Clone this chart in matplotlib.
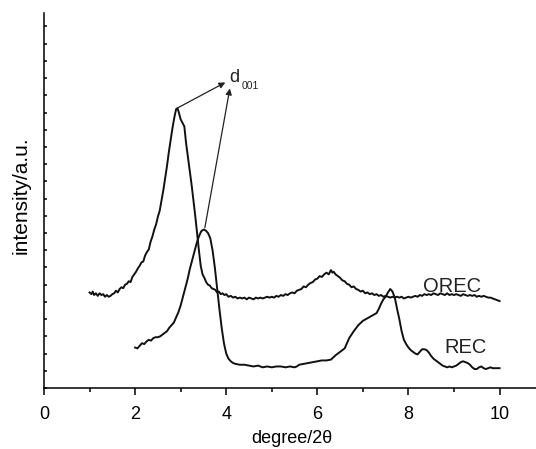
import numpy as np
import matplotlib
matplotlib.use('Agg')
import matplotlib.pyplot as plt
from matplotlib.ticker import MultipleLocator, NullFormatter

plt.rcParams['font.family'] = ['Liberation Sans', 'DejaVu Sans']

## Data (arbitrary intensity units)
orec_x = [1.00, 1.04, 1.07, 1.10, 1.14, 1.18, 1.22, 1.26, 1.30, 1.34, 1.38, 1.42, 1.46, 1.50,
          1.54, 1.58, 1.62, 1.66, 1.70, 1.74, 1.78, 1.82, 1.86, 1.90, 1.94, 1.98, 2.02, 2.06,
          2.10, 2.14, 2.18, 2.22, 2.26, 2.30, 2.34, 2.38, 2.42, 2.46, 2.50, 2.54, 2.58, 2.62,
          2.66, 2.70, 2.74, 2.78, 2.82, 2.86, 2.90, 2.93, 2.96, 3.00, 3.04, 3.08, 3.12, 3.16,
          3.20, 3.24, 3.28, 3.32, 3.36, 3.40, 3.44, 3.48, 3.52, 3.56, 3.60, 3.64, 3.68, 3.72,
          3.76, 3.80, 3.84, 3.88, 3.92, 3.96, 4.00, 4.05, 4.10, 4.15, 4.20, 4.25, 4.30, 4.35,
          4.40, 4.45, 4.50, 4.55, 4.60, 4.65, 4.70, 4.75, 4.80, 4.85, 4.90, 4.95, 5.00, 5.05,
          5.10, 5.15, 5.20, 5.25, 5.30, 5.35, 5.40, 5.45, 5.50, 5.55, 5.60, 5.65, 5.70, 5.75,
          5.80, 5.85, 5.90, 5.95, 6.00, 6.05, 6.10, 6.15, 6.20, 6.25, 6.30, 6.33, 6.36, 6.40,
          6.45, 6.50, 6.55, 6.60, 6.65, 6.70, 6.75, 6.80, 6.85, 6.90, 6.95, 7.00, 7.05, 7.10,
          7.15, 7.20, 7.25, 7.30, 7.35, 7.40, 7.45, 7.50, 7.55, 7.60, 7.65, 7.70, 7.75, 7.80,
          7.85, 7.90, 7.95, 8.00, 8.05, 8.10, 8.15, 8.20, 8.25, 8.30, 8.35, 8.40, 8.45, 8.50,
          8.55, 8.60, 8.65, 8.70, 8.75, 8.80, 8.85, 8.90, 8.95, 9.00, 9.05, 9.10, 9.15, 9.20,
          9.25, 9.30, 9.35, 9.40, 9.45, 9.50, 9.55, 9.60, 9.65, 9.70, 9.75, 9.80, 9.85, 9.90,
          9.95, 10.00]
orec_y = [5.55, 5.45, 5.60, 5.40, 5.50, 5.35, 5.50, 5.40, 5.45, 5.30, 5.40, 5.30, 5.35, 5.45,
          5.50, 5.65, 5.55, 5.75, 5.85, 5.80, 6.00, 6.05, 6.20, 6.15, 6.45, 6.60, 6.75, 6.95,
          7.10, 7.30, 7.35, 7.70, 7.90, 8.05, 8.50, 8.80, 9.20, 9.50, 9.95, 10.30, 10.90, 11.50,
          12.20, 12.90, 13.70, 14.40, 15.10, 15.70, 16.20, 16.25, 16.00, 15.60, 15.40, 15.20, 14.20, 13.40,
          12.60, 11.80, 10.90, 10.00, 9.00, 8.00, 7.10, 6.60, 6.40, 6.15, 6.00, 5.95, 5.80, 5.75,
          5.70, 5.55, 5.60, 5.45, 5.50, 5.40, 5.45, 5.30, 5.35, 5.25, 5.30, 5.20, 5.25, 5.20,
          5.25, 5.15, 5.25, 5.20, 5.15, 5.25, 5.20, 5.25, 5.20, 5.25, 5.30, 5.25, 5.30, 5.25,
          5.35, 5.30, 5.40, 5.35, 5.45, 5.40, 5.50, 5.55, 5.50, 5.65, 5.70, 5.75, 5.90, 5.85,
          6.00, 6.10, 6.15, 6.30, 6.35, 6.50, 6.45, 6.60, 6.70, 6.60, 6.85, 6.70, 6.75, 6.60,
          6.50, 6.40, 6.25, 6.20, 6.05, 6.00, 5.85, 5.90, 5.75, 5.70, 5.60, 5.65, 5.50, 5.55,
          5.45, 5.50, 5.40, 5.45, 5.35, 5.40, 5.30, 5.35, 5.30, 5.25, 5.30, 5.25, 5.30, 5.25,
          5.30, 5.20, 5.25, 5.30, 5.25, 5.30, 5.35, 5.30, 5.40, 5.35, 5.45, 5.40, 5.45, 5.40,
          5.50, 5.45, 5.40, 5.50, 5.45, 5.40, 5.50, 5.40, 5.45, 5.40, 5.45, 5.40, 5.35, 5.45,
          5.40, 5.35, 5.40, 5.35, 5.40, 5.30, 5.35, 5.30, 5.35, 5.30, 5.25, 5.25, 5.20, 5.15,
          5.10, 5.05]

rec_x = [2.00, 2.05, 2.10, 2.15, 2.20, 2.25, 2.30, 2.35, 2.40, 2.45, 2.50, 2.55, 2.60, 2.65,
         2.70, 2.75, 2.80, 2.85, 2.90, 2.95, 3.00, 3.05, 3.10, 3.15, 3.20, 3.25, 3.30, 3.35,
         3.40, 3.45, 3.50, 3.55, 3.60, 3.65, 3.70, 3.75, 3.80, 3.85, 3.90, 3.95, 4.00, 4.05,
         4.10, 4.15, 4.20, 4.30, 4.40, 4.50, 4.60, 4.70, 4.80, 4.90, 5.00, 5.10, 5.20, 5.30,
         5.40, 5.50, 5.55, 5.60, 5.70, 5.80, 5.90, 6.00, 6.10, 6.20, 6.30, 6.40, 6.50, 6.60,
         6.65, 6.70, 6.80, 6.90, 7.00, 7.10, 7.20, 7.30, 7.35, 7.40, 7.45, 7.50, 7.55, 7.60,
         7.65, 7.70, 7.75, 7.80, 7.85, 7.90, 7.95, 8.00, 8.05, 8.10, 8.15, 8.20, 8.25, 8.30,
         8.35, 8.40, 8.45, 8.50, 8.55, 8.60, 8.65, 8.70, 8.75, 8.80, 8.85, 8.90, 8.95, 9.00,
         9.05, 9.10, 9.15, 9.20, 9.25, 9.30, 9.35, 9.40, 9.45, 9.50, 9.55, 9.60, 9.65, 9.70,
         9.75, 9.80, 9.85, 9.90, 9.95, 10.00]
rec_y = [2.35, 2.30, 2.45, 2.60, 2.55, 2.70, 2.80, 2.75, 2.90, 2.95, 2.95, 3.00, 3.10, 3.20,
         3.30, 3.50, 3.65, 3.80, 4.10, 4.40, 4.80, 5.30, 5.80, 6.30, 6.90, 7.40, 7.90, 8.40,
         8.80, 9.10, 9.20, 9.15, 9.00, 8.70, 8.00, 7.00, 5.80, 4.60, 3.50, 2.60, 2.00, 1.70,
         1.55, 1.45, 1.40, 1.35, 1.35, 1.30, 1.25, 1.30, 1.20, 1.25, 1.20, 1.25, 1.25, 1.20,
         1.25, 1.20, 1.25, 1.35, 1.40, 1.45, 1.50, 1.55, 1.60, 1.60, 1.65, 1.90, 2.10, 2.30,
         2.60, 2.90, 3.30, 3.65, 3.90, 4.05, 4.20, 4.35, 4.60, 4.90, 5.15, 5.30, 5.55, 5.75,
         5.60, 5.25, 4.60, 4.00, 3.30, 2.80, 2.55, 2.35, 2.20, 2.10, 2.00, 1.95, 2.10, 2.25,
         2.25, 2.20, 2.05, 1.85, 1.70, 1.60, 1.50, 1.40, 1.30, 1.25, 1.20, 1.25, 1.20, 1.25,
         1.30, 1.40, 1.50, 1.55, 1.50, 1.45, 1.35, 1.20, 1.10, 1.10, 1.20, 1.25, 1.15, 1.10,
         1.15, 1.20, 1.15, 1.15, 1.15, 1.15]

## Figure
fig = plt.figure(figsize=(5.36, 4.49), dpi=100)
ax = fig.add_axes([0.0821, 0.1359, 0.9179, 0.8358])

ax.plot(orec_x, orec_y, color='#111111', lw=1.4)
ax.plot(rec_x, rec_y, color='#111111', lw=1.4)

ax.set_xlim(0, 10.8)
ax.set_ylim(0, 21.8)

ax.spines['top'].set_visible(False)
ax.spines['right'].set_visible(False)
for s in ['left', 'bottom']:
    ax.spines[s].set_linewidth(1.1)

ax.xaxis.set_major_locator(MultipleLocator(2))
ax.xaxis.set_minor_locator(MultipleLocator(1))
ax.tick_params(axis='x', which='major', direction='out', length=5, width=1.1,
               labelsize=13, pad=8)
ax.tick_params(axis='x', which='minor', direction='out', length=3, width=1.1)

ax.yaxis.set_major_locator(MultipleLocator(1))
ax.yaxis.set_major_formatter(NullFormatter())
ax.tick_params(axis='y', which='major', direction='in', length=2, width=1.1)

ax.set_xlabel('degree/2\u03b8', fontsize=13)
ax.xaxis.set_label_coords(0.503, -0.112)
ax.set_ylabel('intensity/a.u.', fontsize=15)
ax.yaxis.set_label_coords(-0.028, 0.515)

# peak labels
ax.text(8.31, 5.55, 'OREC', fontsize=14.5, color='#222222')
ax.text(9.25, 2.05, 'REC', fontsize=14.5, color='#222222', ha='center')

# d001 annotation
ax.text(4.07, 17.75, 'd', fontsize=13, color='#222222')
ax.text(4.33, 17.35, '001', fontsize=7.5, color='#222222')
ax.annotate('', xy=(3.98, 17.75), xytext=(2.92, 16.25),
            arrowprops=dict(arrowstyle='-|>', color='#222222', lw=0.9,
                            mutation_scale=9, shrinkA=0, shrinkB=0))
ax.annotate('', xy=(4.08, 17.4), xytext=(3.53, 9.3),
            arrowprops=dict(arrowstyle='-|>', color='#222222', lw=0.9,
                            mutation_scale=9, shrinkA=0, shrinkB=0))

fig.savefig('out.png', dpi=100)
